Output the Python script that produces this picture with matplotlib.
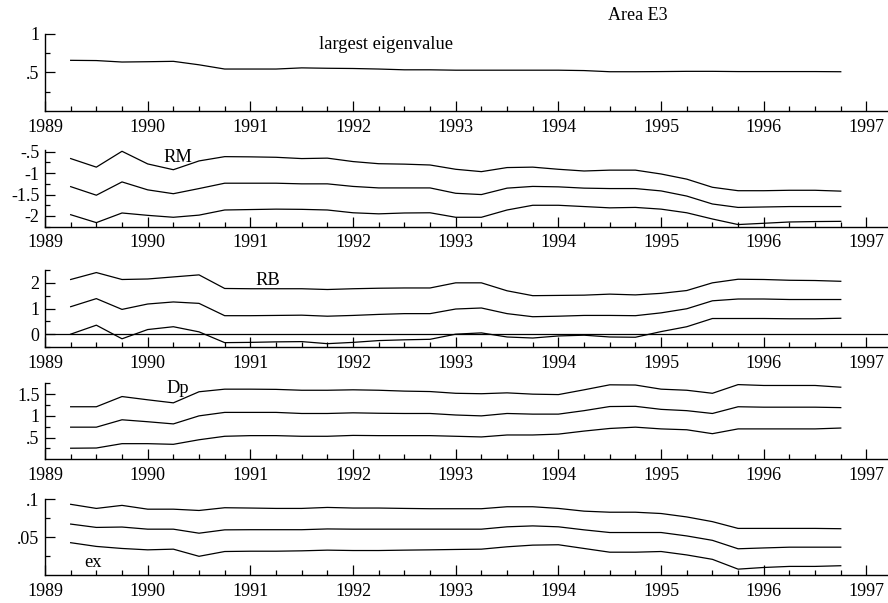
import numpy as np
import matplotlib
matplotlib.use("Agg")
import matplotlib.pyplot as plt
from matplotlib.ticker import FixedLocator, FixedFormatter

plt.rcParams['font.family'] = ['Liberation Serif', 'DejaVu Serif']
plt.rcParams['font.size'] = 13

# quarterly observations 1989Q2 .. 1996Q4
dates = np.arange(1989.25, 1996.76, 0.25)

eig = [0.658, 0.655, 0.636, 0.64, 0.645, 0.60, 0.545, 0.545, 0.545, 0.56, 0.555,
       0.552, 0.545, 0.535, 0.535, 0.53, 0.53, 0.53, 0.53, 0.53, 0.525, 0.51, 0.51,
       0.512, 0.515, 0.515, 0.512, 0.512, 0.512, 0.512, 0.51]

rm_up = [-0.66, -0.86, -0.49, -0.785, -0.92, -0.715, -0.615, -0.62, -0.63, -0.66, -0.65,
         -0.73, -0.78, -0.79, -0.81, -0.91, -0.965, -0.87, -0.86, -0.91, -0.95, -0.93,
         -0.93, -1.02, -1.14, -1.33, -1.41, -1.41, -1.40, -1.40, -1.42]
rm_mid = [-1.315, -1.515, -1.205, -1.39, -1.48, -1.36, -1.235, -1.235, -1.235, -1.25, -1.25,
          -1.31, -1.345, -1.345, -1.345, -1.47, -1.5, -1.35, -1.31, -1.32, -1.35, -1.36,
          -1.36, -1.415, -1.535, -1.72, -1.80, -1.79, -1.78, -1.78, -1.78]
rm_lo = [-1.97, -2.155, -1.93, -1.985, -2.03, -1.98, -1.86, -1.85, -1.84, -1.845, -1.86,
         -1.925, -1.95, -1.93, -1.925, -2.03, -2.03, -1.86, -1.75, -1.75, -1.78, -1.81,
         -1.80, -1.84, -1.925, -2.07, -2.2, -2.17, -2.14, -2.13, -2.125]

rb_up = [2.13, 2.40, 2.13, 2.15, 2.23, 2.31, 1.78, 1.77, 1.77, 1.77, 1.74, 1.77, 1.79,
         1.80, 1.80, 2.0, 2.0, 1.69, 1.50, 1.51, 1.52, 1.56, 1.53, 1.59, 1.70, 2.0, 2.14,
         2.13, 2.10, 2.09, 2.06]
rb_mid = [1.07, 1.385, 0.965, 1.175, 1.255, 1.20, 0.72, 0.72, 0.73, 0.74, 0.70, 0.73, 0.77,
          0.80, 0.80, 0.98, 1.02, 0.80, 0.68, 0.70, 0.73, 0.73, 0.72, 0.83, 0.99, 1.30, 1.37,
          1.37, 1.35, 1.35, 1.35]
rb_lo = [0.0, 0.35, -0.18, 0.18, 0.29, 0.09, -0.33, -0.32, -0.30, -0.29, -0.37, -0.32,
         -0.25, -0.22, -0.20, 0.0, 0.05, -0.11, -0.15, -0.07, -0.04, -0.11, -0.12, 0.10,
         0.29, 0.61, 0.61, 0.61, 0.60, 0.60, 0.62]

dp_up = [1.21, 1.21, 1.445, 1.37, 1.30, 1.555, 1.615, 1.615, 1.61, 1.59, 1.59, 1.60, 1.59,
         1.57, 1.56, 1.52, 1.51, 1.53, 1.50, 1.49, 1.60, 1.715, 1.71, 1.615, 1.59, 1.52,
         1.72, 1.70, 1.70, 1.70, 1.66]
dp_mid = [0.74, 0.74, 0.91, 0.865, 0.815, 1.0, 1.08, 1.08, 1.08, 1.055, 1.055, 1.07, 1.06,
          1.055, 1.055, 1.02, 1.0, 1.055, 1.04, 1.04, 1.12, 1.215, 1.22, 1.15, 1.12, 1.055,
          1.21, 1.20, 1.20, 1.20, 1.19]
dp_lo = [0.255, 0.26, 0.36, 0.36, 0.345, 0.45, 0.53, 0.545, 0.545, 0.53, 0.53, 0.55, 0.545,
         0.545, 0.545, 0.53, 0.515, 0.56, 0.56, 0.58, 0.65, 0.71, 0.74, 0.70, 0.68, 0.59,
         0.70, 0.70, 0.70, 0.70, 0.72]

ex_up = [0.0934, 0.088, 0.092, 0.087, 0.087, 0.0853, 0.0889, 0.0885, 0.088, 0.088, 0.0893,
         0.0885, 0.0885, 0.088, 0.0876, 0.0876, 0.0876, 0.0902, 0.0902, 0.088, 0.0844,
         0.083, 0.083, 0.0813, 0.0768, 0.0706, 0.0617, 0.0617, 0.0617, 0.0617, 0.0613]
ex_mid = [0.0674, 0.063, 0.0635, 0.0607, 0.0607, 0.0554, 0.0598, 0.060, 0.060, 0.060, 0.061,
          0.0607, 0.0607, 0.0607, 0.0607, 0.0607, 0.0607, 0.0638, 0.065, 0.0638, 0.0598,
          0.0563, 0.0563, 0.0563, 0.0518, 0.046, 0.0349, 0.036, 0.037, 0.037, 0.037]
ex_lo = [0.0429, 0.038, 0.0353, 0.0335, 0.0344, 0.025, 0.0313, 0.0317, 0.0317, 0.0322,
         0.0331, 0.0326, 0.0326, 0.0331, 0.0335, 0.034, 0.0344, 0.0375, 0.0397, 0.0402,
         0.0353, 0.0304, 0.0304, 0.0313, 0.0268, 0.021, 0.0081, 0.0103, 0.0117, 0.0117,
         0.0126]

year_ticks = list(range(1989, 1998))
year_labels = [str(y) for y in year_ticks]

panels = [
    dict(series=[eig], ylim=(0, 1), major=[0.5, 1], labels=['.5', '1'],
         minor=[0.25, 0.75], label='largest eigenvalue', lx=1991.67, ly=0.86, zero=False),
    dict(series=[rm_up, rm_mid, rm_lo], ylim=(-2.25, -0.46), major=[-2, -1.5, -1, -0.5],
         labels=['-2', '-1.5', '-1', '-.5'], minor=[-2.25, -1.75, -1.25, -0.75],
         label='RM', lx=1990.15, ly=-0.63, zero=False),
    dict(series=[rb_up, rb_mid, rb_lo], ylim=(-0.5, 2.5), major=[0, 1, 2],
         labels=['0', '1', '2'], minor=[-0.5, 0.5, 1.5, 2.5],
         label='RB', lx=1991.05, ly=2.08, zero=True),
    dict(series=[dp_up, dp_mid, dp_lo], ylim=(0, 1.75), major=[0.5, 1, 1.5],
         labels=['.5', '1', '1.5'], minor=[0.25, 0.75, 1.25, 1.75],
         label='Dp', lx=1990.18, ly=1.64, zero=False),
    dict(series=[ex_up, ex_mid, ex_lo], ylim=(0, 0.1), major=[0.05, 0.1],
         labels=['.05', '.1'], minor=[0.025, 0.075],
         label='ex', lx=1989.38, ly=0.0165, zero=False),
]

# pixel boxes (top, bottom) of each panel
boxes = [(34, 111), (150, 226.7), (270, 347), (383.3, 459.3), (499.3, 575.3)]

W, H = 888, 603
fig = plt.figure(figsize=(W / 100, H / 100), dpi=100)
left = 45 / W

for p, (top, bot) in zip(panels, boxes):
    ax = fig.add_axes([left, 1 - bot / H, 1 - left, (bot - top) / H])
    for s in p['series']:
        ax.plot(dates, s, color='black', lw=0.9)
    if p['zero']:
        ax.axhline(0, color='black', lw=0.9)
    ax.set_xlim(1989, 1997.21)
    ax.set_ylim(*p['ylim'])
    ax.spines['top'].set_visible(False)
    ax.spines['right'].set_visible(False)
    for sp in ('left', 'bottom'):
        ax.spines[sp].set_linewidth(1.0)
    ax.xaxis.set_major_locator(FixedLocator(year_ticks))
    ax.xaxis.set_major_formatter(FixedFormatter(year_labels))
    ax.xaxis.set_minor_locator(FixedLocator(list(np.arange(1989.25, 1997.2, 0.25))))
    ax.yaxis.set_major_locator(FixedLocator(p['major']))
    ax.yaxis.set_major_formatter(FixedFormatter(p['labels']))
    ax.yaxis.set_minor_locator(FixedLocator(p['minor']))
    ax.tick_params(axis='both', which='major', direction='in', length=7, width=0.9,
                   labelsize=13)
    ax.tick_params(axis='both', which='minor', direction='in', length=3.5, width=0.9)
    ax.tick_params(axis='x', which='major', pad=5.5)
    ax.tick_params(axis='y', which='major', pad=4)
    ax.text(p['lx'], p['ly'], p['label'], ha='left', va='center', fontsize=13.3)
    ax.patch.set_alpha(0)

fig.text(638 / W, 1 - 15 / H, 'Area E3', ha='center', va='center', fontsize=13)

fig.savefig('out.png', dpi=100)
